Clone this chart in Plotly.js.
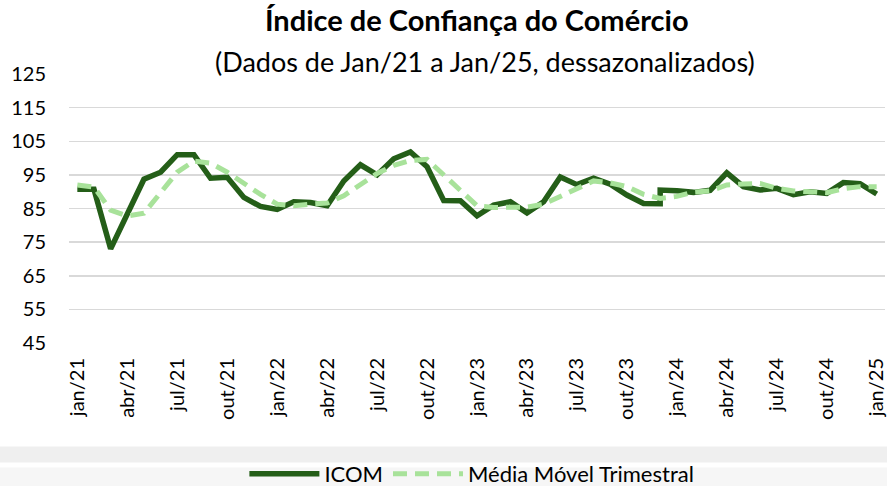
<!DOCTYPE html>
<html>
<head>
<meta charset="utf-8">
<script src="https://cdn.plot.ly/plotly-3.0.1.min.js"></script>
<style>
  html, body { margin: 0; padding: 0; background: #ffffff; }
  #chart { width: 887px; height: 486px; }
</style>
</head>
<body>
<div id="chart"></div>
<script>
// Month categories (Jan/21 to Jan/25)
const months = [
  'jan/21','fev/21','mar/21','abr/21','mai/21','jun/21','jul/21','ago/21','set/21','out/21','nov/21','dez/21',
  'jan/22','fev/22','mar/22','abr/22','mai/22','jun/22','jul/22','ago/22','set/22','out/22','nov/22','dez/22',
  'jan/23','fev/23','mar/23','abr/23','mai/23','jun/23','jul/23','ago/23','set/23','out/23','nov/23','dez/23',
  'jan/24','fev/24','mar/24','abr/24','mai/24','jun/24','jul/24','ago/24','set/24','out/24','nov/24','dez/24',
  'jan/25'
];

// ICOM series (series break in dez/23: old and new value at the same month)
const icomMonths = [
  'jan/21','fev/21','mar/21','abr/21','mai/21','jun/21','jul/21','ago/21','set/21','out/21','nov/21','dez/21',
  'jan/22','fev/22','mar/22','abr/22','mai/22','jun/22','jul/22','ago/22','set/22','out/22','nov/22','dez/22',
  'jan/23','fev/23','mar/23','abr/23','mai/23','jun/23','jul/23','ago/23','set/23','out/23','nov/23','dez/23','dez/23',
  'jan/24','fev/24','mar/24','abr/24','mai/24','jun/24','jul/24','ago/24','set/24','out/24','nov/24','dez/24',
  'jan/25'
];
const icomValues = [
  90.7, 90.7, 73.0, 83.6, 93.7, 95.8, 101.0, 101.0, 94.0, 94.3, 88.3, 85.6,
  84.7, 87.0, 86.8, 85.8, 93.2, 98.0, 95.0, 99.8, 101.8, 97.4, 87.4, 87.3,
  82.8, 86.0, 87.0, 83.7, 87.0, 94.4, 92.1, 94.0, 92.2, 89.0, 86.5, 86.4, 90.5,
  90.3, 89.8, 90.4, 95.6, 91.5, 90.5, 91.0, 89.1, 90.0, 89.5, 92.7, 92.4,
  89.3
];

// Média Móvel Trimestral series
const mmValues = [
  92.0, 91.4, 84.5, 82.8, 83.6, 90.0, 95.8, 99.1, 98.5, 95.8, 92.3, 89.2,
  86.3, 85.8, 86.3, 86.6, 88.8, 92.2, 95.4, 97.8, 99.3, 99.6, 95.0, 90.2,
  85.8, 85.3, 85.2, 85.4, 86.3, 88.5, 91.0, 93.2, 92.6, 91.5, 89.2, 88.0,
  88.6, 89.9, 90.2, 92.0, 92.3, 92.4, 91.0, 90.2, 90.0, 89.7, 90.9, 91.5,
  91.5
];

// Tick labels shown on the x axis (every quarter)
const xTickLabels = ['jan/21','abr/21','jul/21','out/21','jan/22','abr/22','jul/22','out/22',
  'jan/23','abr/23','jul/23','out/23','jan/24','abr/24','jul/24','out/24','jan/25'];
const yTickValues = [45, 55, 65, 75, 85, 95, 105, 115, 125];

const seriesNames = ['ICOM', 'Média Móvel Trimestral'];
const titleText = 'Índice de Confiança do Comércio';
const subtitleText = '(Dados de Jan/21 a Jan/25, dessazonalizados)';

const FONT = 'Lato, "Open Sans", sans-serif';

const traces = [
  {
    x: icomMonths, y: icomValues, name: seriesNames[0],
    type: 'scatter', mode: 'lines',
    line: { color: '#245e18', width: 5.5, shape: 'linear' },
    hoverinfo: 'x+y'
  },
  {
    x: months, y: mmValues, name: seriesNames[1],
    type: 'scatter', mode: 'lines',
    line: { color: '#a8e29a', width: 5, dash: '14px,8px' },
    hoverinfo: 'x+y'
  }
];

const layout = {
  width: 887, height: 486,
  paper_bgcolor: '#ffffff', plot_bgcolor: '#ffffff',
  margin: { l: 69, r: 2, t: 74, b: 143, pad: 0 },
  font: { family: FONT, color: '#000000' },
  title: {
    text: '<b>' + titleText + '</b>',
    font: { family: FONT, size: 29, color: '#000000' },
    x: 0.5375, xanchor: 'center', xref: 'container',
    y: 1 - 21/486, yanchor: 'middle', yref: 'container'
  },
  annotations: [{
    text: subtitleText, showarrow: false,
    xref: 'paper', yref: 'paper', x: 0.5095, y: (342.7 - 62) / 268.4,
    xanchor: 'center', yanchor: 'middle',
    font: { family: FONT, size: 27, color: '#000000' }
  }],
  xaxis: {
    type: 'category', categoryorder: 'array', categoryarray: months,
    range: [-0.5, months.length - 0.5],
    tickmode: 'array', tickvals: xTickLabels, ticktext: xTickLabels,
    tickangle: -90, tickfont: { family: FONT, size: 20, color: '#000000' },
    showgrid: false, zeroline: false, showline: false, ticks: '',
    ticklabelstandoff: 10, fixedrange: true
  },
  yaxis: {
    range: [45, 125], tickmode: 'array', tickvals: yTickValues,
    tickfont: { family: FONT, size: 20, color: '#000000' },
    showgrid: true, gridcolor: '#d9d9d9', gridwidth: 1.5,
    zeroline: false, showline: false, ticks: '',
    ticklabelstandoff: 22, fixedrange: true
  },
  shapes: [
    { type: 'rect', xref: 'paper', yref: 'paper', x0: -0.1, x1: 1.01,
      y0: (342.7 - 446) / 268.4, y1: (342.7 - 462) / 268.4,
      fillcolor: '#efefef', line: { width: 0 }, layer: 'below' },
    { type: 'rect', xref: 'paper', yref: 'paper', x0: -0.1, x1: 1.01,
      y0: (342.7 - 467) / 268.4, y1: (342.7 - 490) / 268.4,
      fillcolor: '#f6f6f6', line: { width: 0 }, layer: 'below' }
  ],
  showlegend: true,
  legend: {
    orientation: 'h', xref: 'container', yref: 'container',
    x: 0.532, xanchor: 'center', y: 12/486, yanchor: 'middle',
    font: { family: FONT, size: 22, color: '#000000' },
    itemwidth: 70, bgcolor: 'rgba(0,0,0,0)', traceorder: 'normal'
  }
};

Plotly.newPlot('chart', traces, layout, { displayModeBar: false, staticPlot: true });
</script>
</body>
</html>
